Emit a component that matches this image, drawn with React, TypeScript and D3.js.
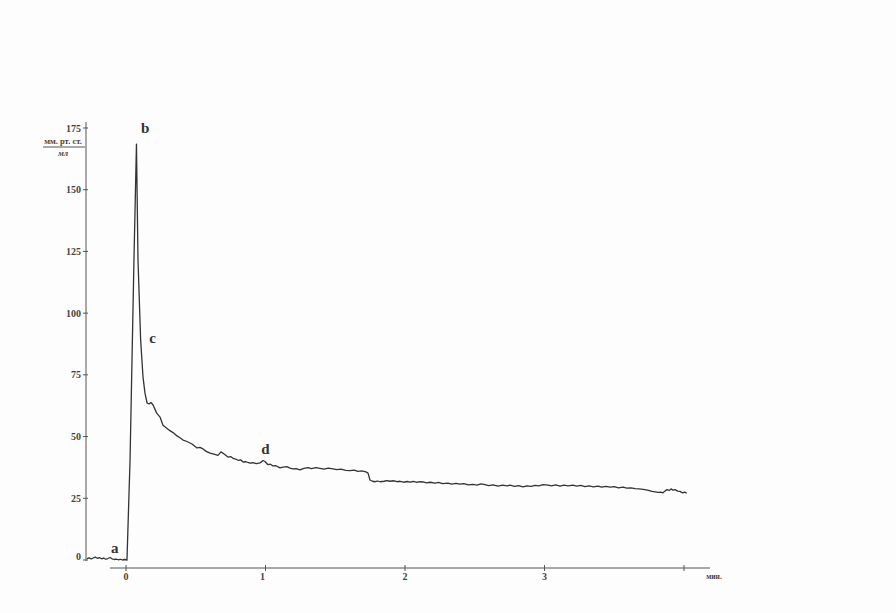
import React from "react";
import * as d3 from "d3";

const timeMin: number[] = [
  -0.28, -0.265, -0.25, -0.235, -0.22, -0.205, -0.19, -0.175, -0.16, -0.145, -0.13, -0.115, -0.1, -0.085, -0.07, -0.055, -0.04, -0.025, -0.01, 0.007,
  0.029, 0.057, 0.075, 0.086, 0.105, 0.122, 0.136, 0.151, 0.165, 0.179, 0.194, 0.22, 0.244, 0.265, 0.29, 0.315, 0.337, 0.358, 0.384, 0.409,
  0.437, 0.473, 0.509, 0.53, 0.552, 0.575, 0.602, 0.631, 0.659, 0.681, 0.703, 0.731, 0.75, 0.767, 0.785, 0.803, 0.821, 0.839, 0.86, 0.889,
  0.91, 0.935, 0.961, 0.982, 0.996, 1.018, 1.036, 1.054, 1.075, 1.104, 1.125, 1.154, 1.175, 1.197, 1.22, 1.247, 1.275, 1.305, 1.33, 1.362,
  1.39, 1.419, 1.45, 1.484, 1.51, 1.541, 1.575, 1.606, 1.635, 1.663, 1.69, 1.72, 1.735, 1.749, 1.767, 1.785, 1.805, 1.821, 1.85, 1.87,
  1.892, 1.92, 1.945, 1.964, 1.99, 2.015, 2.036, 2.06, 2.085, 2.105, 2.129, 2.155, 2.18, 2.215, 2.24, 2.27, 2.308, 2.335, 2.365, 2.394,
  2.42, 2.455, 2.487, 2.515, 2.545, 2.573, 2.6, 2.63, 2.667, 2.7, 2.73, 2.753, 2.785, 2.815, 2.846, 2.875, 2.905, 2.932, 2.96, 2.99,
  3.025, 3.05, 3.08, 3.111, 3.14, 3.17, 3.204, 3.23, 3.26, 3.29, 3.32, 3.35, 3.384, 3.41, 3.44, 3.47, 3.5, 3.53, 3.563, 3.59,
  3.62, 3.649, 3.68, 3.72, 3.745, 3.771, 3.795, 3.814, 3.835, 3.849, 3.865, 3.878, 3.895, 3.907, 3.92, 3.935, 3.955, 3.971, 3.99, 4.005, 4.019,
];

const pressure: number[] = [
  0.6, 0.9, 0.4, 0.8, 1.2, 0.7, 1.0, 0.5, 0.8, 0.3, 0.6, 1.0, 0.5, 0.2, 0.4, 0.1, 0.3, 0.0, 0.2, 0.0,
  40.5, 121.5, 168.5, 121.5, 89.1, 74.1, 67.6, 63.6, 63.2, 63.8, 62.8, 59.5, 57.9, 54.6, 53.5, 52.4, 51.6, 50.6, 49.6, 48.6,
  48.0, 47.0, 45.4, 45.6, 45.0, 44.0, 43.3, 42.9, 42.4, 43.8, 42.9, 41.7, 41.9, 41.2, 40.9, 40.4, 40.6, 39.7, 39.8, 39.2,
  39.4, 39.0, 39.3, 40.3, 39.9, 38.6, 38.8, 38.1, 38.2, 37.3, 37.6, 37.8, 37.2, 36.9, 37.0, 36.5, 37.1, 37.4, 37.0, 37.4,
  37.1, 36.8, 37.2, 36.9, 36.6, 36.8, 36.3, 36.2, 36.4, 35.9, 36.1, 35.7, 35.2, 32.4, 31.9, 31.7, 32.0, 31.7, 31.9, 32.2,
  31.9, 32.1, 31.7, 31.9, 31.5, 31.8, 31.5, 31.8, 31.4, 31.7, 31.6, 31.2, 31.5, 31.1, 31.4, 30.9, 31.1, 30.7, 31.0, 30.7,
  30.9, 30.4, 30.6, 30.3, 30.8, 30.5, 30.1, 30.4, 29.9, 30.3, 30.0, 30.3, 29.8, 30.1, 29.6, 30.0, 29.8, 30.2, 30.0, 30.5,
  30.3, 30.0, 30.4, 29.9, 30.3, 30.0, 30.3, 29.9, 30.2, 29.7, 30.0, 29.6, 29.9, 29.5, 29.8, 29.5, 29.7, 29.2, 29.5, 29.1,
  29.2, 28.9, 28.8, 28.5, 28.2, 27.8, 27.6, 27.4, 27.5, 27.2, 28.0, 28.5, 28.2, 28.8, 28.3, 28.5, 27.9, 27.8, 27.2, 27.5, 27.1,
];

const yTicks: number[] = [0, 25, 50, 75, 100, 125, 150, 175];
const xTicks: number[] = [0, 1, 2, 3, 4];
const xTickLabels: string[] = ["0", "1", "2", "3", ""];

const pointLabels: { name: string; t: number; v: number }[] = [
  { name: "a", t: -0.08, v: 3 },
  { name: "b", t: 0.138, v: 173 },
  { name: "c", t: 0.19, v: 88 },
  { name: "d", t: 1.0, v: 43 },
];

const yUnitTop = "мм. рт. ст.";
const yUnitBottom = "мл";
const xUnit = "мин.";

export default function App() {
  const W = 896;
  const H = 613;
  const x = d3.scaleLinear().domain([0, 4]).range([126, 684]);
  const y = d3.scaleLinear().domain([0, 175]).range([560, 128]);
  const data = timeMin.map((t, i) => [t, pressure[i]] as [number, number]);
  const line = d3
    .line<[number, number]>()
    .x((d) => x(d[0]))
    .y((d) => y(d[1]))
    .curve(d3.curveLinear);

  const font = "'Liberation Serif', 'DejaVu Serif', serif";
  const axisX = 86;
  const axisY = 568;

  return (
    <div style={{ position: "absolute", left: 0, top: 0 }}>
      <svg width={W} height={H} style={{ display: "block", background: "#fdfdfd" }}>
        {/* Y axis */}
        <line x1={axisX} x2={axisX} y1={122} y2={561} stroke="#555" strokeWidth={1} />
        {yTicks.map((v) => (
          <g key={v}>
            <line x1={axisX - 3} x2={axisX + 2} y1={y(v)} y2={y(v)} stroke="#555" strokeWidth={1} />
            <text
              x={axisX - 5}
              y={v === 0 ? y(v) - 4 : y(v)}
              dy="0.35em"
              textAnchor="end"
              fontFamily={font}
              fontSize={10}
              fontWeight="bold"
              fill="#444"
            >
              {v}
            </text>
          </g>
        ))}
        {/* Y unit */}
        <text x={63} y={144} textAnchor="middle" fontFamily={font} fontSize={8.5} fontWeight="bold" fill="#444">
          {yUnitTop}
        </text>
        <line x1={43} x2={85} y1={147} y2={147} stroke="#555" strokeWidth={1} />
        <text x={63} y={156} textAnchor="middle" fontFamily={font} fontSize={8.5} fontStyle="italic" fontWeight="bold" fill="#444">
          {yUnitBottom}
        </text>

        {/* X axis */}
        <line x1={110} x2={710} y1={axisY} y2={axisY} stroke="#555" strokeWidth={1} />
        {xTicks.map((t, i) => (
          <g key={t}>
            <line x1={x(t)} x2={x(t)} y1={axisY - 3} y2={axisY + 3} stroke="#555" strokeWidth={1} />
            <text
              x={x(t) - (t === 1 ? 3 : 0)}
              y={axisY + 8}
              dy="0.35em"
              textAnchor="middle"
              fontFamily={font}
              fontSize={10}
              fontWeight="bold"
              fill="#444"
            >
              {xTickLabels[i]}
            </text>
          </g>
        ))}
        <text x={714} y={axisY + 8} dy="0.35em" textAnchor="middle" fontFamily={font} fontSize={7.5} fontWeight="bold" fill="#444">
          {xUnit}
        </text>

        {/* Curve */}
        <path d={line(data) || ""} fill="none" stroke="#333" strokeWidth={1.3} strokeLinejoin="round" />

        {/* Point labels */}
        {pointLabels.map((p) => (
          <text
            key={p.name}
            x={x(p.t)}
            y={y(p.v)}
            textAnchor="middle"
            fontFamily={font}
            fontSize={15}
            fontWeight="bold"
            fill="#333"
          >
            {p.name}
          </text>
        ))}
      </svg>
    </div>
  );
}
